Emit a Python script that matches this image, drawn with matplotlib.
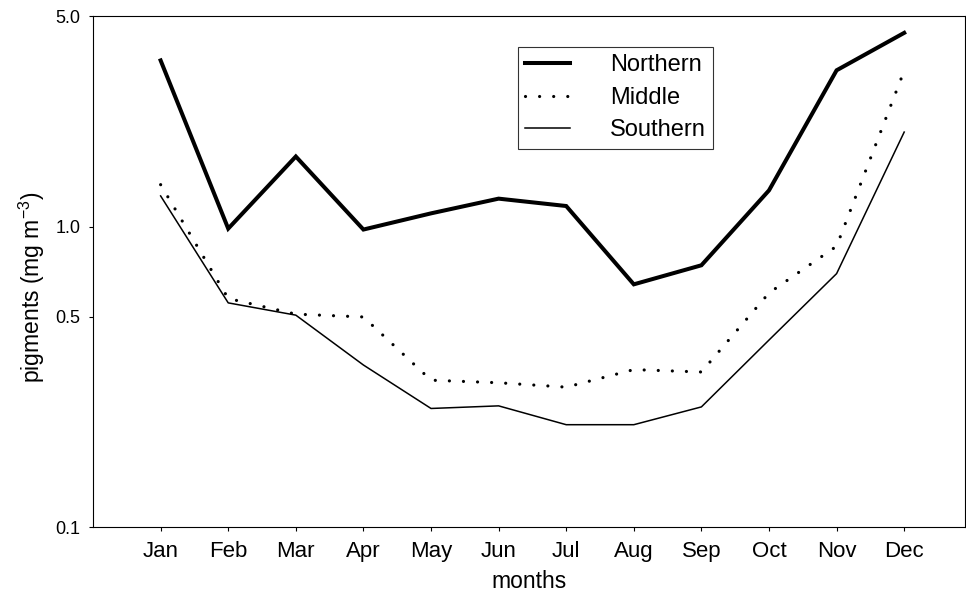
import numpy as np
from matplotlib import pyplot as plt

plt.rcParams['font.family'] = ['Liberation Sans', 'DejaVu Sans']

months = ['Jan', 'Feb', 'Mar', 'Apr', 'May', 'Jun',
          'Jul', 'Aug', 'Sep', 'Oct', 'Nov', 'Dec']
northern = [3.57, 0.984, 1.71, 0.977, 1.106, 1.238, 1.17, 0.642, 0.743, 1.319, 3.31, 4.41]
middle = [1.378, 0.576, 0.511, 0.500, 0.308, 0.302, 0.292, 0.334, 0.328, 0.601, 0.860, 3.3]
southern = [1.264, 0.557, 0.507, 0.346, 0.248, 0.253, 0.219, 0.219, 0.251, 0.419, 0.697, 2.062]
yticks = [0.1, 0.5, 1.0, 5.0]
ytick_labels = ['0.1', '0.5', '1.0', '5.0']

x = np.arange(len(months))

fig = plt.figure(figsize=(9.66, 5.99), dpi=100)
ax = fig.add_axes([0.0963, 0.1202, 0.9027, 0.8523])

ax.plot(x, northern, color='k', lw=2.9, solid_joinstyle='miter', label='Northern')
ax.plot(x, middle, color='k', lw=2.3, linestyle=(0, (0.01, 4.4)),
        dash_capstyle='round', label='Middle')
ax.plot(x, southern, color='k', lw=1.1, label='Southern')

ax.set_yscale('log')
ax.set_ylim(0.1, 5.0)
ax.set_xlim(-1.0, 11.9)
ax.set_yticks(yticks)
ax.set_yticklabels(ytick_labels)
ax.minorticks_off()
ax.set_xticks(x)
ax.set_xticklabels(months)
ax.tick_params(direction='out', length=3, width=0.8, pad=6)
ax.tick_params(axis='x', labelsize=16, pad=7)
ax.tick_params(axis='y', labelsize=13)

for s in ax.spines.values():
    s.set_linewidth(0.8)

ax.set_xlabel('months', fontsize=16.5, labelpad=6)
ax.set_ylabel('pigments (mg m$^{\\mathregular{-3}}$)', fontsize=16.5)
ax.yaxis.set_label_coords(-0.053, 0.47)

leg = ax.legend(loc='upper left', bbox_to_anchor=(0.4874, 0.940), fontsize=17,
                fancybox=False, frameon=True, edgecolor='k', handlelength=1.9,
                handletextpad=1.7, borderpad=0.3, labelspacing=0.45, borderaxespad=0)
leg.get_frame().set_linewidth(0.8)

fig.savefig('out.png', dpi=100)
